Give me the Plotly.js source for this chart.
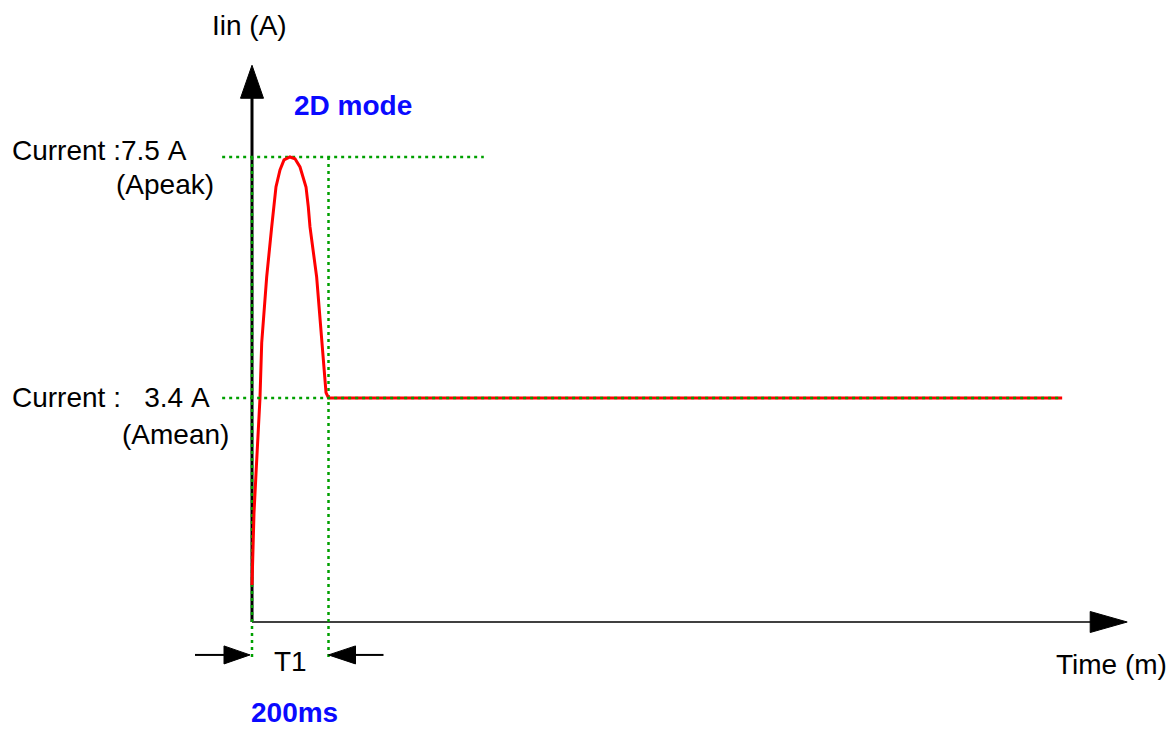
<!DOCTYPE html>
<html>
<head>
<meta charset="utf-8">
<script src="https://cdn.plot.ly/plotly-3.0.1.min.js"></script>
<style>
html,body{margin:0;padding:0;background:#fff;}
#chart{width:1175px;height:731px;}
</style>
</head>
<body>
<div id="chart"></div>
<script>
// ---- data (schematic) ----
const timeMs   = [0, 1.8, 5.2, 10.5, 16.5, 20.9, 25.4, 38.4, 51.5, 57.5, 62.7, 73.2, 83.7, 99.3, 112.4, 125.5, 141.2, 147.2, 151.6, 169, 182.2, 193.5, 200, 2118];
const currentA = [0.22, 0.70, 1.44, 2.12, 2.80, 3.40, 4.34, 5.46, 6.31, 6.72, 6.99, 7.28, 7.45, 7.5, 7.47, 7.33, 6.99, 6.65, 6.31, 5.46, 4.34, 3.49, 3.4, 3.4];

const peakA = 7.5;          // Apeak
const meanA = 3.4;          // Amean
const t1Ms = 200;           // T1
const guideStartMs = -78;
const peakGuideEndMs = 606;
const meanGuideEndMs = 2118;
const guideBottomA = -1.06;
const markerLevelA = -0.97;

const axisBaseA = -0.41;
const axisTopA = 9.06;
const axisLineTopA = 8.55;
const timeAxisEndMs = 2288;
const timeAxisLineEndMs = 2196;

const xRange = [-658.8, 2413];
const yRange = [-2.264, 10.17];

const labelTexts = ['Iin (A)', '2D mode', 'Current :7.5\u00a0A', '(Apeak)', 'Current :\u00a0\u00a0\u00a03.4\u00a0A', '(Amean)', 'T1', '200ms', 'Time (m)'];

// ---- styles ----
const GREEN = '#00a000';
const RED = '#ff0000';
const BLUE = '#0a0aff';
const FONT = 'Liberation Sans, Arial, sans-serif';
const W = 1175, H = 731;
const px = v => v / W;
const py = v => 1 - v / H;

const greenDash = {color: GREEN, width: 2.5, dash: '3px,4px'};

const traces = [
  {x: [guideStartMs, peakGuideEndMs], y: [peakA, peakA], mode: 'lines', line: greenDash, hoverinfo: 'skip'},
  {x: [0, 0], y: [peakA, guideBottomA], mode: 'lines', line: greenDash, hoverinfo: 'skip'},
  {x: [t1Ms, t1Ms], y: [peakA, guideBottomA], mode: 'lines', line: greenDash, hoverinfo: 'skip'},
  {x: timeMs, y: currentA, mode: 'lines', line: {color: RED, width: 3}, hoverinfo: 'skip'},
  {x: [guideStartMs, meanGuideEndMs], y: [meanA, meanA], mode: 'lines', line: greenDash, hoverinfo: 'skip'}
];

const shapes = [
  {type: 'line', xref: 'x', yref: 'y', x0: 0, x1: 0, y0: axisBaseA, y1: axisLineTopA, line: {color: '#000', width: 3}, layer: 'below'},
  {type: 'path', xref: 'x', yref: 'y', xsizemode: 'pixel', ysizemode: 'pixel', xanchor: 0, yanchor: axisTopA,
   path: 'M0,0 L-11.5,-33 L11.5,-33 Z', fillcolor: '#000', line: {color: '#000', width: 1}, layer: 'below'},
  {type: 'line', xref: 'x', yref: 'y', x0: 0, x1: timeAxisLineEndMs, y0: axisBaseA, y1: axisBaseA, line: {color: '#404040', width: 2}, layer: 'below'},
  {type: 'path', xref: 'x', yref: 'y', xsizemode: 'pixel', ysizemode: 'pixel', xanchor: timeAxisEndMs, yanchor: axisBaseA,
   path: 'M0,0 L-37,10.5 L-37,-10.5 Z', fillcolor: '#000', line: {color: '#000', width: 1}, layer: 'below'},
  {type: 'path', xref: 'x', yref: 'y', xsizemode: 'pixel', ysizemode: 'pixel', xanchor: 0, yanchor: markerLevelA,
   path: 'M-57,0 L-27,0', line: {color: '#000', width: 2}},
  {type: 'path', xref: 'x', yref: 'y', xsizemode: 'pixel', ysizemode: 'pixel', xanchor: 0, yanchor: markerLevelA,
   path: 'M-2,0 L-28,9 L-28,-9 Z', fillcolor: '#000', line: {color: '#000', width: 1}},
  {type: 'path', xref: 'x', yref: 'y', xsizemode: 'pixel', ysizemode: 'pixel', xanchor: t1Ms, yanchor: markerLevelA,
   path: 'M27,0 L55,0', line: {color: '#000', width: 2}},
  {type: 'path', xref: 'x', yref: 'y', xsizemode: 'pixel', ysizemode: 'pixel', xanchor: t1Ms, yanchor: markerLevelA,
   path: 'M0,0 L27,9 L27,-9 Z', fillcolor: '#000', line: {color: '#000', width: 1}}
];

function ann(text, x, y, xanchor, color, bold) {
  return {text: bold ? '<b>' + text + '</b>' : text, xref: 'paper', yref: 'paper', x: px(x), y: py(y), xanchor: xanchor, yanchor: 'middle',
          showarrow: false, font: {family: FONT, size: 28, color: color || '#000'}};
}

const annotations = [
  ann(labelTexts[0], 249, 26, 'center'),
  ann(labelTexts[1], 353, 105, 'center', BLUE, true),
  ann(labelTexts[2], 10, 150, 'left'),
  ann(labelTexts[3], 216, 184, 'right'),
  ann(labelTexts[4], 10, 397, 'left'),
  ann(labelTexts[5], 231, 434, 'right'),
  ann(labelTexts[6], 290, 661, 'center'),
  ann(labelTexts[7], 295, 712, 'center', BLUE, true),
  ann(labelTexts[8], 1169, 664, 'right')
];

const layout = {
  width: W, height: H,
  margin: {l: 0, r: 0, t: 0, b: 0},
  paper_bgcolor: '#fff', plot_bgcolor: '#fff',
  showlegend: false,
  xaxis: {range: xRange, visible: false, fixedrange: true},
  yaxis: {range: yRange, visible: false, fixedrange: true},
  shapes: shapes,
  annotations: annotations
};

Plotly.newPlot('chart', traces, layout, {staticPlot: true, displayModeBar: false});
</script>
</body>
</html>
